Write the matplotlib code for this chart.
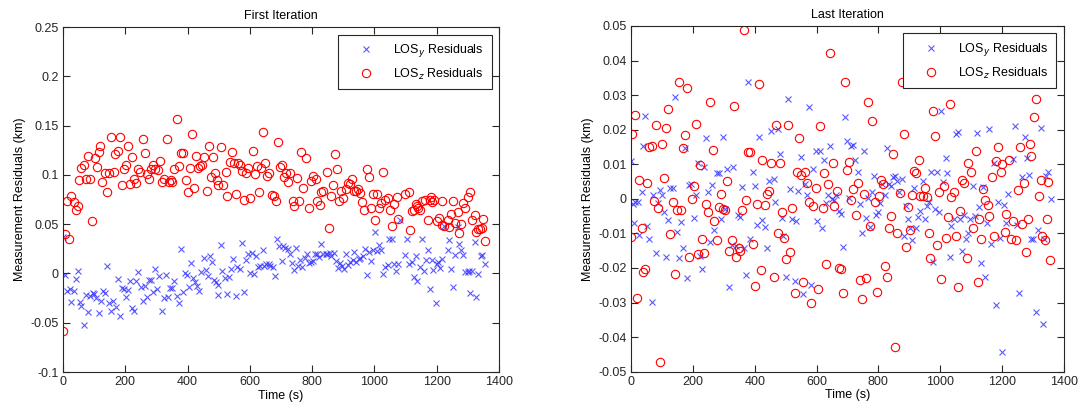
import numpy as np
import matplotlib
matplotlib.use("Agg")
from matplotlib import pyplot as plt
from matplotlib.ticker import FixedLocator, FuncFormatter

plt.rcParams['font.family'] = ['Liberation Sans', 'DejaVu Sans']

# ---- First iteration, LOS y (blue x) ----
t_first_y = [0, 7, 14, 21, 27, 34, 41, 47, 53, 59, 68, 74, 81, 88, 95, 100, 107, 114, 121, 127,
             135, 142, 149, 155, 161, 169, 175, 182, 189, 196, 202, 210, 216, 222, 229, 235, 242, 249, 256, 263,
             271, 276, 282, 290, 297, 302, 309, 317, 324, 332, 337, 343, 351, 358, 365, 371, 378, 384, 391, 398,
             404, 411, 417, 425, 431, 437, 444, 452, 458, 464, 471, 478, 485, 491, 497, 499, 506, 512, 520, 527,
             534, 541, 547, 554, 560, 567, 574, 580, 588, 594, 601, 607, 614, 620, 627, 634, 641, 647, 653, 660,
             666, 674, 681, 687, 695, 702, 708, 714, 721, 728, 735, 742, 749, 755, 762, 769, 776, 783, 789, 796,
             802, 809, 815, 822, 830, 836, 843, 849, 856, 862, 869, 876, 882, 889, 896, 903, 909, 916, 922, 930,
             936, 942, 949, 955, 962, 969, 975, 982, 989, 996, 1002, 1008, 1015, 1021, 1028, 1035, 1042, 1048, 1056, 1062,
             1069, 1076, 1083, 1099, 1104, 1110, 1121, 1127, 1134, 1137, 1145, 1152, 1159, 1165, 1172, 1177, 1184, 1189, 1197, 1202,
             1205, 1211, 1218, 1224, 1235, 1238, 1246, 1253, 1260, 1267, 1273, 1279, 1286, 1292, 1299, 1305, 1308, 1314, 1322, 1327,
             1334, 1341, 1347, 1355]
res_first_y = [0.037, -0.002, -0.018, -0.016, -0.029, -0.018, -0.006, 0.002, -0.029, -0.033, -0.052, -0.022, -0.039, -0.023, -0.020, -0.021, -0.025, -0.040, -0.028, -0.018,
               -0.020, 0.008, -0.030, -0.038, -0.028, -0.034, -0.006, -0.043, -0.015, -0.016, -0.024, -0.017, -0.008, -0.035, -0.038, -0.008, 0.001, -0.014, -0.028, -0.013,
               -0.024, -0.007, -0.007, -0.019, 0.005, -0.016, -0.003, -0.038, -0.025, -0.002, -0.024, -0.015, -0.015, -0.008, -0.023, -0.030, 0.025, -0.019, 0.000, -0.002,
               -0.014, 0.011, -0.005, -0.009, -0.013, -0.018, 0.001, 0.016, 0.003, -0.003, 0.018, 0.012, -0.007, -0.009, -0.012, -0.022, 0.029, 0.002, -0.005, -0.021,
               -0.004, 0.005, 0.015, -0.023, 0.007, 0.005, 0.031, -0.019, 0.014, 0.020, 0.000, 0.021, -0.001, 0.018, 0.007, 0.008, 0.024, 0.008, 0.010, 0.010,
               0.008, 0.007, -0.003, 0.035, 0.028, 0.013, 0.028, 0.026, 0.025, 0.020, 0.011, 0.003, 0.026, 0.008, 0.014, 0.007, 0.016, 0.020, 0.011, 0.012,
               0.013, 0.020, 0.020, 0.017, 0.030, 0.020, 0.020, 0.020, 0.021, 0.018, 0.021, 0.013, 0.006, 0.011, 0.008, 0.004, 0.020, 0.009, 0.012, 0.014,
               0.022, 0.012, 0.015, 0.016, 0.018, 0.025, -0.002, 0.022, 0.013, 0.024, 0.042, 0.023, 0.029, 0.024, -0.001, 0.007, 0.009, 0.035, 0.035, 0.010,
               0.002, 0.010, 0.054, 0.019, 0.035, 0.010, 0.012, -0.004, 0.018, -0.008, 0.007, 0.035, 0.002, 0.014, 0.024, -0.016, 0.014, 0.003, -0.030, 0.010,
               0.012, 0.006, 0.015, 0.048, 0.024, 0.034, 0.005, -0.014, 0.019, 0.047, 0.030, 0.024, 0.019, 0.001, 0.001, 0.002, -0.020, 0.002, 0.032, -0.024,
               -0.001, 0.018, 0.019, 0.010]

# ---- First iteration, LOS z (red o) ----
t_first_z = [0, 7, 20, 14, 27, 34, 41, 48, 51, 59, 67, 74, 81, 87, 94, 102, 108, 114, 120, 126,
             135, 142, 148, 155, 163, 168, 175, 182, 188, 196, 203, 210, 215, 222, 229, 235, 242, 248, 256, 264,
             271, 277, 284, 290, 297, 304, 310, 317, 325, 333, 339, 346, 351, 358, 365, 371, 378, 384, 395, 401,
             407, 414, 420, 427, 433, 440, 447, 454, 461, 468, 474, 481, 489, 494, 498, 506, 513, 523, 528, 535,
             542, 549, 555, 562, 568, 574, 580, 588, 594, 602, 610, 616, 622, 629, 636, 642, 649, 656, 663, 670,
             676, 683, 690, 696, 703, 709, 717, 724, 730, 737, 743, 751, 757, 764, 770, 779, 791, 797, 803, 811,
             817, 824, 830, 836, 848, 855, 860, 866, 874, 880, 887, 893, 900, 908, 914, 920, 927, 934, 940, 947,
             954, 960, 967, 975, 982, 989, 995, 1003, 1009, 1015, 1021, 1029, 1035, 1042, 1050, 1056, 1064, 1072, 1077, 1097,
             1110, 1115, 1121, 1126, 1132, 1137, 1140, 1146, 1153, 1162, 1173, 1177, 1183, 1186, 1191, 1202, 1207, 1216, 1218, 1224,
             1235, 1240, 1246, 1253, 1260, 1267, 1273, 1278, 1286, 1292, 1301, 1308, 1314, 1322, 1327, 1333, 1340, 1344, 1349, 1355]
res_first_z = [-0.058, 0.040, 0.035, 0.073, 0.079, 0.072, 0.064, 0.068, 0.095, 0.107, 0.110, 0.096, 0.119, 0.096, 0.053, 0.117, 0.108, 0.123, 0.129, 0.093,
               0.102, 0.083, 0.102, 0.138, 0.103, 0.121, 0.124, 0.138, 0.090, 0.106, 0.110, 0.129, 0.091, 0.118, 0.096, 0.092, 0.106, 0.103, 0.136, 0.122,
               0.101, 0.096, 0.106, 0.110, 0.106, 0.105, 0.114, 0.093, 0.096, 0.136, 0.093, 0.095, 0.093, 0.106, 0.157, 0.109, 0.122, 0.122, 0.095, 0.083,
               0.107, 0.141, 0.087, 0.119, 0.107, 0.109, 0.110, 0.118, 0.084, 0.129, 0.098, 0.118, 0.102, 0.095, 0.090, 0.128, 0.090, 0.103, 0.079, 0.113,
               0.123, 0.112, 0.081, 0.112, 0.110, 0.104, 0.074, 0.102, 0.107, 0.077, 0.124, 0.101, 0.109, 0.083, 0.107, 0.143, 0.112, 0.099, 0.102, 0.080,
               0.079, 0.073, 0.133, 0.108, 0.110, 0.098, 0.102, 0.093, 0.102, 0.073, 0.068, 0.097, 0.073, 0.123, 0.087, 0.117, 0.066, 0.094, 0.099, 0.096,
               0.073, 0.069, 0.083, 0.084, 0.103, 0.046, 0.079, 0.090, 0.121, 0.106, 0.073, 0.084, 0.077, 0.086, 0.092, 0.091, 0.096, 0.084, 0.084, 0.086,
               0.082, 0.072, 0.064, 0.106, 0.098, 0.066, 0.081, 0.054, 0.081, 0.066, 0.071, 0.103, 0.075, 0.077, 0.064, 0.048, 0.070, 0.078, 0.055, 0.081,
               0.083, 0.044, 0.063, 0.064, 0.070, 0.068, 0.066, 0.064, 0.073, 0.074, 0.054, 0.075, 0.078, 0.072, 0.074, 0.053, 0.056, 0.073, 0.049, 0.048,
               0.054, 0.047, 0.060, 0.073, 0.051, 0.062, 0.041, 0.050, 0.071, 0.066, 0.078, 0.083, 0.054, 0.059, 0.042, 0.045, 0.045, 0.046, 0.055, 0.033]

# ---- Last iteration, LOS y (blue x) ----
t_last_y = [0, 6, 10, 14, 22, 27, 35, 40, 46, 53, 57, 70, 68, 82, 86, 94, 99, 107, 113, 119,
            125, 135, 142, 148, 154, 162, 168, 175, 181, 189, 195, 203, 209, 216, 222, 230, 236, 242, 249, 256,
            263, 270, 277, 284, 290, 297, 303, 310, 317, 325, 331, 339, 346, 353, 359, 365, 371, 379, 385, 393,
            400, 407, 413, 425, 433, 439, 446, 454, 461, 467, 475, 481, 487, 493, 501, 508, 515, 522, 529, 534,
            541, 549, 556, 563, 569, 574, 582, 590, 598, 603, 610, 617, 624, 630, 637, 643, 651, 657, 664, 671,
            679, 685, 692, 698, 706, 711, 719, 725, 734, 739, 747, 753, 760, 766, 772, 779, 786, 793, 799, 806,
            813, 820, 828, 834, 841, 847, 855, 861, 868, 875, 882, 888, 895, 901, 909, 915, 923, 929, 936, 943,
            950, 956, 963, 969, 977, 983, 990, 997, 1004, 1010, 1017, 1022, 1030, 1036, 1044, 1050, 1057, 1063, 1071, 1077,
            1084, 1091, 1097, 1105, 1111, 1119, 1125, 1133, 1139, 1145, 1152, 1159, 1165, 1174, 1180, 1187, 1193, 1200, 1206, 1213,
            1220, 1234, 1243, 1249, 1256, 1263, 1275, 1280, 1288, 1292, 1300, 1310, 1317, 1325, 1331, 1336, 1343, 1350, 1357]
res_last_y = [0.0108, -0.0014, -0.0069, -0.0010, -0.0009, -0.0105, 0.0019, 0.0153, 0.0241, -0.0079, -0.0116, 0.0010, -0.0298, -0.0158, -0.0011, 0.0025, 0.0011, -0.0037, -0.0169, -0.0061,
              0.0032, 0.0030, 0.0296, -0.0095, -0.0172, -0.0066, -0.0143, 0.0148, -0.0230, 0.0040, 0.0044, -0.0056, 0.0011, 0.0103, -0.0165, -0.0204, 0.0091, 0.0177, 0.0021, -0.0124,
              0.0040, -0.0090, 0.0076, 0.0076, -0.0057, 0.0179, -0.0030, 0.0087, -0.0254, -0.0133, 0.0093, -0.0136, -0.0047, -0.0054, 0.0033, -0.0141, -0.0220, 0.0338, -0.0117, 0.0079,
              0.0037, -0.0076, 0.0179, -0.0061, -0.0082, -0.0141, 0.0053, 0.0196, 0.0056, -0.0010, 0.0201, 0.0130, -0.0056, -0.0107, -0.0227, 0.0290, 0.0028, -0.0058, -0.0238, -0.0063,
              0.0024, 0.0122, -0.0274, 0.0042, 0.0011, 0.0265, -0.0249, 0.0085, 0.0137, -0.0064, 0.0137, -0.0083, 0.0112, -0.0011, 0.0010, 0.0153, -0.0001, -0.0003, 0.0011, -0.0035,
              -0.0043, -0.0138, 0.0238, 0.0167, 0.0001, 0.0153, 0.0155, 0.0111, 0.0079, -0.0016, -0.0098, 0.0137, -0.0056, 0.0001, -0.0081, 0.0019, 0.0066, -0.0048, -0.0039, -0.0011,
              0.0042, 0.0010, 0.0148, 0.0044, 0.0037, 0.0062, 0.0066, 0.0053, 0.0019, 0.0056, -0.0108, -0.0020, -0.0057, -0.0085, -0.0120, 0.0030, -0.0085, -0.0054, -0.0035, 0.0053,
              -0.0058, -0.0021, -0.0008, 0.0079, -0.0184, -0.0030, 0.0079, -0.0037, 0.0255, 0.0050, 0.0119, 0.0074, -0.0169, -0.0079, -0.0057, 0.0188, 0.0194, -0.0057, -0.0150, -0.0047,
              -0.0117, -0.0099, -0.0057, 0.0038, -0.0049, 0.0190, -0.0025, -0.0186, 0.0035, -0.0225, -0.0069, 0.0202, -0.0130, 0.0104, -0.0307, -0.0008, -0.0113, -0.0442, -0.0017, -0.0069,
              0.0013, 0.0114, 0.0211, -0.0076, -0.0272, 0.0062, 0.0180, 0.0119, 0.0068, -0.0115, -0.0115, -0.0326, -0.0090, 0.0205, -0.0362, -0.0115, 0.0066, 0.0078, -0.0001]

# ---- Last iteration, LOS z (red o) ----
t_last_z = [2, 14, 1, 20, 27, 34, 40, 46, 52, 57, 69, 74, 82, 87, 94, 101, 107, 112, 120, 126,
            135, 142, 148, 155, 161, 167, 175, 181, 188, 196, 203, 209, 216, 222, 229, 236, 243, 249, 256, 264,
            270, 277, 284, 290, 297, 303, 310, 317, 326, 332, 339, 348, 353, 359, 365, 371, 377, 385, 394, 402,
            408, 413, 420, 425, 433, 439, 446, 454, 462, 468, 475, 481, 488, 494, 501, 507, 514, 522, 530, 536,
            543, 549, 557, 563, 569, 574, 582, 587, 597, 604, 611, 620, 625, 630, 637, 643, 652, 658, 665, 672,
            679, 685, 692, 698, 705, 711, 719, 726, 733, 740, 747, 752, 760, 765, 773, 780, 788, 796, 801, 807,
            814, 820, 827, 834, 840, 847, 855, 861, 869, 875, 882, 889, 896, 902, 909, 916, 923, 930, 936, 943,
            950, 956, 963, 968, 977, 984, 991, 997, 1004, 1011, 1018, 1024, 1030, 1036, 1046, 1051, 1058, 1064, 1070, 1076,
            1085, 1091, 1098, 1107, 1114, 1121, 1126, 1133, 1139, 1145, 1153, 1159, 1166, 1173, 1180, 1187, 1195, 1201, 1208, 1214,
            1222, 1228, 1236, 1244, 1251, 1258, 1264, 1271, 1277, 1283, 1290, 1295, 1304, 1311, 1318, 1325, 1330, 1338, 1345, 1350, 1356]
res_last_z = [0.0188, 0.0243, -0.0109, -0.0286, 0.0054, -0.0085, -0.0213, -0.0203, 0.0045, 0.0149, 0.0152, -0.0005, 0.0215, -0.0027, -0.0471, 0.0160, 0.0059, 0.0206, 0.0259, -0.0103,
              -0.0010, -0.0217, -0.0032, 0.0337, -0.0032, 0.0147, 0.0185, 0.0320, -0.0169, 0.0000, 0.0037, 0.0216, -0.0159, 0.0099, -0.0117, -0.0157, -0.0015, -0.0039, 0.0281, 0.0140,
              -0.0064, -0.0120, -0.0025, 0.0014, -0.0030, -0.0032, 0.0053, -0.0151, -0.0120, 0.0269, -0.0167, -0.0142, -0.0150, -0.0032, 0.0489, -0.0002, 0.0135, 0.0135, -0.0132, -0.0251,
              -0.0016, 0.0331, -0.0207, 0.0112, -0.0017, 0.0014, 0.0024, 0.0103, -0.0227, 0.0214, -0.0099, 0.0104, -0.0038, -0.0112, -0.0175, 0.0214, -0.0155, -0.0027, -0.0273, 0.0078,
              0.0176, 0.0068, -0.0242, 0.0079, 0.0047, -0.0009, -0.0300, -0.0021, 0.0032, -0.0260, 0.0212, -0.0027, 0.0074, -0.0189, 0.0042, 0.0422, 0.0104, -0.0020, 0.0024, -0.0200,
              -0.0203, -0.0272, 0.0337, 0.0082, 0.0106, -0.0002, 0.0029, -0.0046, 0.0045, -0.0235, -0.0289, 0.0013, -0.0230, 0.0280, -0.0079, 0.0226, -0.0009, -0.0269, 0.0008, 0.0054,
              0.0042, -0.0193, -0.0225, -0.0083, -0.0050, 0.0130, -0.0430, -0.0100, 0.0018, 0.0337, 0.0188, -0.0140, -0.0024, -0.0090, 0.0012, 0.0080, 0.0076, 0.0112, 0.0009, 0.0009,
              0.0032, 0.0006, -0.0099, -0.0172, 0.0255, 0.0182, -0.0135, 0.0021, -0.0233, 0.0038, -0.0113, -0.0054, 0.0275, 0.0006, 0.0021, -0.0107, -0.0256, -0.0035, 0.0054, 0.0045,
              -0.0171, 0.0105, 0.0078, -0.0085, 0.0137, -0.0241, -0.0057, -0.0117, 0.0029, -0.0004, -0.0019, -0.0051, 0.0064, -0.0107, 0.0108, 0.0150, 0.0077, 0.0101, -0.0096, -0.0045,
              0.0112, -0.0117, -0.0064, -0.0120, 0.0025, 0.0150, -0.0072, 0.0045, -0.0155, -0.0058, 0.0158, 0.0124, 0.0238, 0.0288, 0.0009, 0.0054, -0.0107, -0.0120, -0.0058, 0.0048, -0.0177]

x_ticks = [0, 200, 400, 600, 800, 1000, 1200, 1400]
y_ticks_first = [-0.1, -0.05, 0, 0.05, 0.1, 0.15, 0.2, 0.25]
y_ticks_last = [-0.05, -0.04, -0.03, -0.02, -0.01, 0, 0.01, 0.02, 0.03, 0.04, 0.05]

fig = plt.figure(figsize=(10.9, 4.15), dpi=100)
ax1 = fig.add_axes([0.0578, 0.1036, 0.4, 0.8313])
ax2 = fig.add_axes([0.5789, 0.1044, 0.3972, 0.8330])


def draw(ax, ty, ry, tz, rz, yticks, title):
    ax.plot(ty, ry, linestyle='none', marker='x', color='#3030ff', markersize=4.5,
            markeredgewidth=0.8, alpha=0.8, label='LOS$_y$ Residuals')
    ax.plot(tz, rz, linestyle='none', marker='o', markerfacecolor='none', markeredgecolor='#ff0000',
            markersize=6, markeredgewidth=0.8, label='LOS$_z$ Residuals')
    ax.set_xlim(0, 1400)
    ax.set_ylim(yticks[0], yticks[-1])
    ax.xaxis.set_major_locator(FixedLocator(x_ticks))
    ax.yaxis.set_major_locator(FixedLocator(yticks))
    ax.yaxis.set_major_formatter(FuncFormatter(lambda v, p: '%g' % round(v, 4)))
    ax.tick_params(direction='in', top=True, right=True, length=5, width=0.8,
                   labelsize=9, colors='#262626', pad=3)
    for s in ax.spines.values():
        s.set_color('#262626')
        s.set_linewidth(0.8)
    ax.set_title(title, fontsize=9, pad=6)
    ax.set_xlabel('Time (s)', fontsize=9, labelpad=1)
    ax.set_ylabel('Measurement Residuals (km)', fontsize=9, labelpad=3)
    leg = ax.legend(loc='upper right', fontsize=9, numpoints=1, fancybox=False,
                    edgecolor='#262626', framealpha=1, handlelength=3.2, handletextpad=0.6,
                    borderpad=0.6, labelspacing=0.6, borderaxespad=0.6)
    leg.get_frame().set_linewidth(0.8)


draw(ax1, t_first_y, res_first_y, t_first_z, res_first_z, y_ticks_first, 'First Iteration')
draw(ax2, t_last_y, res_last_y, t_last_z, res_last_z, y_ticks_last, 'Last Iteration')

fig.savefig('out.png', dpi=100)
